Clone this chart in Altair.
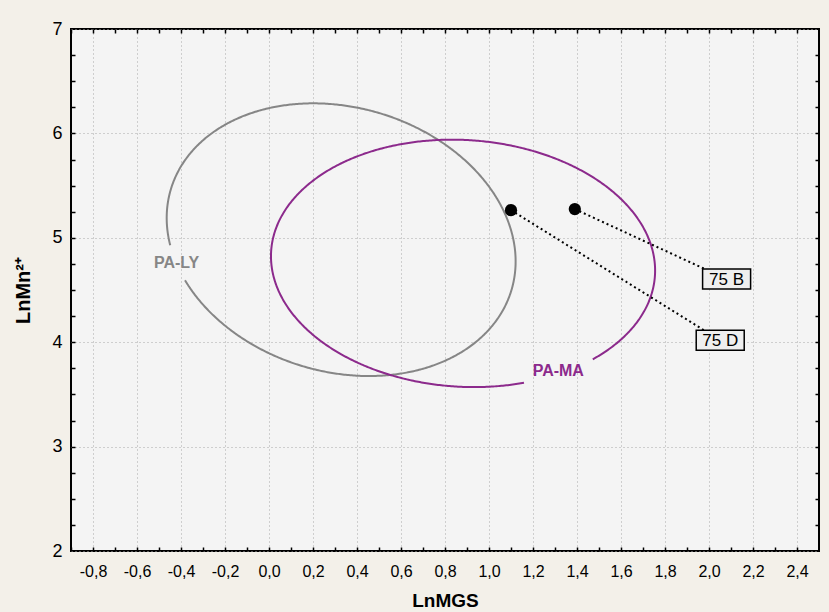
import numpy as np
import pandas as pd
import altair as alt

# ---- data ----
ELLIPSE_NAMES = ["PA-LY", "PA-MA"]
ELLIPSE_COLORS = ["#868686", "#8c2a8c"]
CENTER_X = [0.328, 0.882]
CENTER_Y = [4.982, 4.755]
HALF_WIDTH_X = [0.793, 0.873]
HALF_HEIGHT_Y = [1.306, 1.185]
COVAR_XY = [-0.165, -0.06]

GROUP_LABEL_X = [-0.42, 1.315]
GROUP_LABEL_Y = [4.76, 3.726]
GAP_HALF_X = [0.14, 0.155]
GAP_HALF_Y = [0.16, 0.12]

SAMPLES = ["75 D", "75 B"]
SAMPLE_X = [1.10, 1.39]
SAMPLE_Y = [5.265, 5.275]
SAMPLE_LABEL_X = [2.051, 2.080]
SAMPLE_LABEL_Y = [4.018, 4.605]

X_DOMAIN = [-0.9, 2.5]
Y_DOMAIN = [2, 7]
X_TICKS = [-0.8, -0.6, -0.4, -0.2, 0.0, 0.2, 0.4, 0.6, 0.8, 1.0, 1.2, 1.4, 1.6, 1.8, 2.0, 2.2, 2.4]
X_MINOR = [-0.9, -0.8, -0.7, -0.6, -0.5, -0.4, -0.3, -0.2, -0.1, 0.0, 0.1, 0.2, 0.3, 0.4, 0.5,
           0.6, 0.7, 0.8, 0.9, 1.0, 1.1, 1.2, 1.3, 1.4, 1.5, 1.6, 1.7, 1.8, 1.9, 2.0, 2.1, 2.2,
           2.3, 2.4]
Y_TICKS = [2, 3, 4, 5, 6, 7]
Y_MINOR = [2.25, 2.5, 2.75, 3, 3.25, 3.5, 3.75, 4, 4.25, 4.5, 4.75, 5, 5.25, 5.5, 5.75, 6,
           6.25, 6.5, 6.75]

# ---- ellipse outlines from the read centre / spread values ----
t = np.linspace(0, 2 * np.pi, 721)[:-1]
frames = []
for i, name in enumerate(ELLIPSE_NAMES):
    l00 = HALF_WIDTH_X[i]
    l10 = COVAR_XY[i] / l00
    l11 = np.sqrt(HALF_HEIGHT_Y[i] ** 2 - l10 ** 2)
    ex = CENTER_X[i] + l00 * np.cos(t)
    ey = CENTER_Y[i] + l10 * np.cos(t) + l11 * np.sin(t)
    gap = (np.abs(ex - GROUP_LABEL_X[i]) < GAP_HALF_X[i]) & (np.abs(ey - GROUP_LABEL_Y[i]) < GAP_HALF_Y[i])
    k = 0
    if gap.any():
        for j in range(len(t)):
            if gap[j - 1] and not gap[j]:
                k = j
                break
    ex = np.roll(ex, -k)
    ey = np.roll(ey, -k)
    g = np.roll(gap, -k)
    keep = ~g
    frames.append(pd.DataFrame({"x": ex[keep], "y": ey[keep], "group": name,
                                "i": np.arange(keep.sum())}))
ell_df = pd.concat(frames, ignore_index=True)

grp_df = pd.DataFrame({"group": ELLIPSE_NAMES, "x": GROUP_LABEL_X, "y": GROUP_LABEL_Y})
smp_df = pd.DataFrame({"sample": SAMPLES, "x": SAMPLE_X, "y": SAMPLE_Y,
                       "lx": SAMPLE_LABEL_X, "ly": SAMPLE_LABEL_Y})

# ---- scales / axes ----
xs = alt.Scale(domain=X_DOMAIN, nice=False, zero=False)
ys = alt.Scale(domain=Y_DOMAIN, nice=False, zero=False)
color = alt.Color("group:N", scale=alt.Scale(domain=ELLIPSE_NAMES, range=ELLIPSE_COLORS), legend=None)

NARROW = "Liberation Sans Narrow, Liberation Sans, Arial"
REG = "Liberation Sans, Arial"

x_label_axis = alt.Axis(
    orient="bottom", values=X_TICKS,
    labelExpr="replace(replace(format(datum.value, '.1f'), '.', ','), '\u2212', '-')",
    ticks=False, domain=False, grid=True, gridDash=[1, 3], gridColor="#a9a9a9", gridWidth=1,
    labelFont=NARROW, labelFontSize=16, labelColor="black", labelPadding=12,
    title="LnMGS", titleFont=NARROW, titleFontSize=19, titleFontWeight="bold",
    titleColor="black", titlePadding=12)
y_label_axis = alt.Axis(
    orient="left", values=Y_TICKS, format="d",
    ticks=False, domain=False, grid=True, gridDash=[1, 3], gridColor="#a9a9a9", gridWidth=1,
    labelFont=REG, labelFontSize=18, labelColor="black", labelPadding=9,
    title="LnMn²⁺", titleFont=REG, titleFontSize=20, titleFontWeight="bold",
    titleColor="black", titlePadding=18)


def tick_axis(orient, values):
    return alt.Axis(orient=orient, values=values, offset=-4, tickSize=4, tickWidth=1.5,
                    tickColor="black", labels=False, domain=False, grid=False, title=None)


ellipses = alt.Chart(ell_df).mark_line(strokeWidth=2).encode(
    x=alt.X("x:Q", scale=xs, axis=x_label_axis),
    y=alt.Y("y:Q", scale=ys, axis=y_label_axis),
    color=color, detail="group:N", order="i:Q")

leaders = alt.Chart(smp_df).mark_rule(strokeDash=[2, 3], strokeWidth=2, color="black").encode(
    x=alt.X("x:Q", scale=xs, axis=tick_axis("bottom", X_MINOR)),
    y=alt.Y("y:Q", scale=ys, axis=tick_axis("left", Y_MINOR)),
    x2="lx:Q", y2="ly:Q")

boxes = alt.Chart(smp_df).mark_rect(
    xOffset=-24, x2Offset=24, yOffset=-10, y2Offset=10,
    fill="#efefef", stroke="black", strokeWidth=1.5).encode(
    x=alt.X("lx:Q", scale=xs, axis=None), x2="lx:Q",
    y=alt.Y("ly:Q", scale=ys, axis=None), y2="ly:Q")

box_text = alt.Chart(smp_df).mark_text(font=REG, fontSize=17, color="black",
                                       baseline="middle", align="center", dy=1).encode(
    x=alt.X("lx:Q", scale=xs, axis=None),
    y=alt.Y("ly:Q", scale=ys, axis=None),
    text="sample:N")

group_text = alt.Chart(grp_df).mark_text(font=REG, fontSize=16, fontWeight="bold",
                                         baseline="middle", align="center").encode(
    x=alt.X("x:Q", scale=xs, axis=None),
    y=alt.Y("y:Q", scale=ys, axis=None),
    text="group:N", color=color)

dots = alt.Chart(smp_df).mark_circle(size=150, color="black", opacity=1).encode(
    x=alt.X("x:Q", scale=xs, axis=tick_axis("top", X_MINOR)),
    y=alt.Y("y:Q", scale=ys, axis=tick_axis("right", Y_MINOR)))

chart = alt.layer(ellipses, leaders, boxes, box_text, group_text, dots).resolve_axis(
    x="independent", y="independent"
).properties(
    width=748, height=522,
    autosize=alt.AutoSizeParams(type="none"),
    padding={"left": 71, "top": 29, "right": 10, "bottom": 61},
    background="#f3f0e9",
).configure_view(fill="#f4f4f4", stroke="black", strokeWidth=2)

chart.save("out.html", embed_options={"renderer": "svg", "actions": False})
